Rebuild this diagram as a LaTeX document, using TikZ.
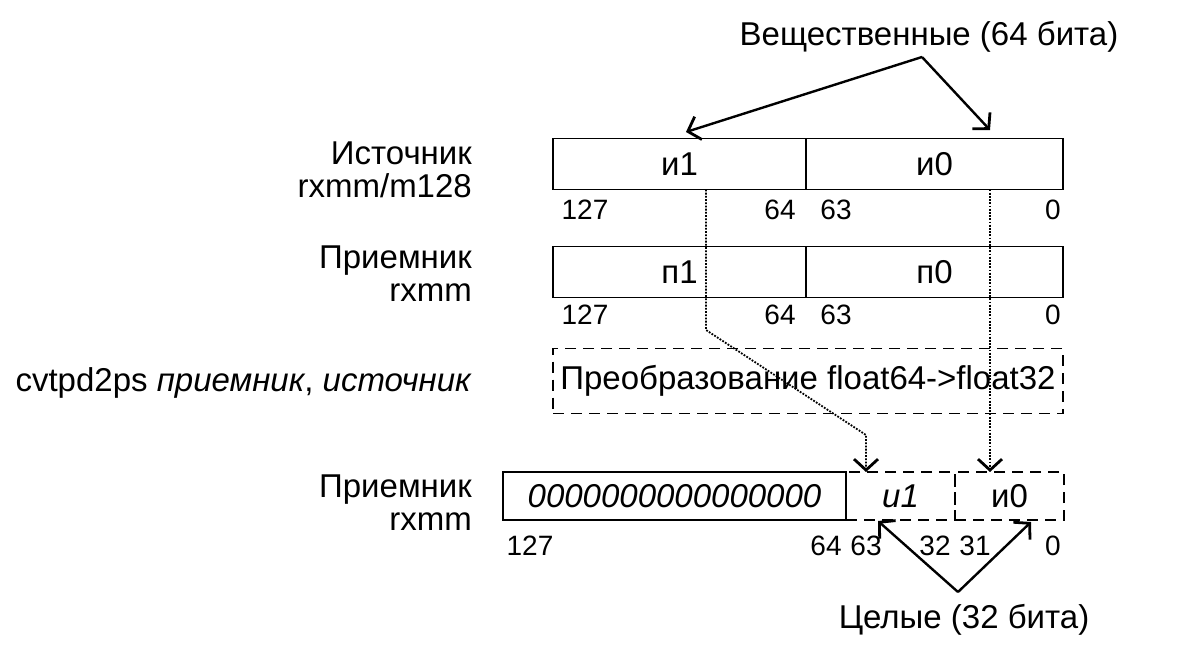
\documentclass[tikz,border=0pt]{standalone}
\usepackage{fontspec}
\setmainfont{Liberation Sans}
\usetikzlibrary{positioning,arrows.meta,calc}

\newcommand{\mainsz}{\fontsize{33}{33}\selectfont}
\newcommand{\bitsz}{\fontsize{28}{30}\selectfont}

\begin{document}
\begin{tikzpicture}[x=1pt, y=-1pt,
  cell/.style={draw, line width=1.9pt, inner sep=0pt, outer sep=0pt, minimum height=51pt, font=\mainsz},
  dcell/.style={cell, dash pattern=on 11pt off 7pt},
  lbl/.style={font=\mainsz, align=right, anchor=east, inner sep=0pt},
  bit/.style={font=\bitsz, inner sep=0pt},
  dotline/.style={dash pattern=on 1.8pt off 1.4pt},
  arr/.style={-{Straight Barb[length=11pt, width=24pt, line width=2.8pt]}, line width=2.4pt},
]
\useasboundingbox (0,0) rectangle (1186,659);
% --- source ---
\node[lbl] (srclbl) at (472,170) {Источник\\rxmm/m128};
\node[cell, minimum width=253pt] (src1) at (679.5,164) {и1};
\node[cell, minimum width=257pt, right=0pt of src1] (src0) {и0};
\node[bit] (s127) at (585,210) {127};
\node[bit] (s64) at (780,210) {64};
\node[bit] (s63) at (836,210) {63};
\node[bit] (s0) at (1053,210) {0};
% --- destination ---
\node[lbl] (dstlbl) at (472,274) {Приемник\\rxmm};
\node[cell, minimum width=253pt] (dst1) at (679.5,272) {п1};
\node[cell, minimum width=257pt, right=0pt of dst1] (dst0) {п0};
\node[bit] (d127) at (585,315) {127};
\node[bit] (d64) at (780,315) {64};
\node[bit] (d63) at (836,315) {63};
\node[bit] (d0) at (1053,315) {0};
% --- conversion ---
\node[lbl] (cmdlbl) at (472,383) {cvtpd2ps \textit{приемник}, \textit{источник}};
\node[dcell, minimum width=510pt, minimum height=65pt] (conv) at (808,381) {Преобразование float64->float32};
% --- result ---
\node[lbl] (reslbl) at (472,503) {Приемник\\rxmm};
\node[cell, minimum width=343pt, minimum height=48pt] (zeros) at (674.5,496) {\itshape 0000000000000000};
\node[dcell, minimum width=109pt, minimum height=48pt, right=0pt of zeros] (res1) {\itshape и1};
\node[dcell, minimum width=109pt, minimum height=48pt, right=0pt of res1] (res0) {и0};
\node[bit] (r127) at (530,546) {127};
\node[bit] (r64) at (826,546) {64};
\node[bit] (r63) at (866,546) {63};
\node[bit] (r32) at (935,546) {32};
\node[bit] (r31) at (975,546) {31};
\node[bit] (r0) at (1053,546) {0};
% --- captions and arrows ---
\node[font=\mainsz, inner sep=0pt] (real) at (929,37) {Вещественные (64 бита)};
\node[font=\mainsz, inner sep=0pt] (int) at (964,620) {Целые (32 бита)};
\coordinate (realtop) at (922,57);
\coordinate (tip1) at (686,132);
\coordinate (tip0) at (990,130);
\draw[arr] (realtop) -- (tip1);
\draw[arr] (realtop) -- (tip0);
\coordinate (intapex) at (958,592);
\coordinate (itip1) at (878,521);
\coordinate (itip0) at (1031,522);
\draw[arr] (intapex) -- (itip1);
\draw[arr] (intapex) -- (itip0);
% dotted moves
\draw[arr, dotline, line width=1.8pt] (src1.south -| 706,0) -- (706,330) -- (866,435) -- (res1.north -| 866,0);
\draw[arr, dotline, line width=1.8pt] (src0.south -| 990,0) -- (res0.north -| 990,0);
\end{tikzpicture}
\end{document}
